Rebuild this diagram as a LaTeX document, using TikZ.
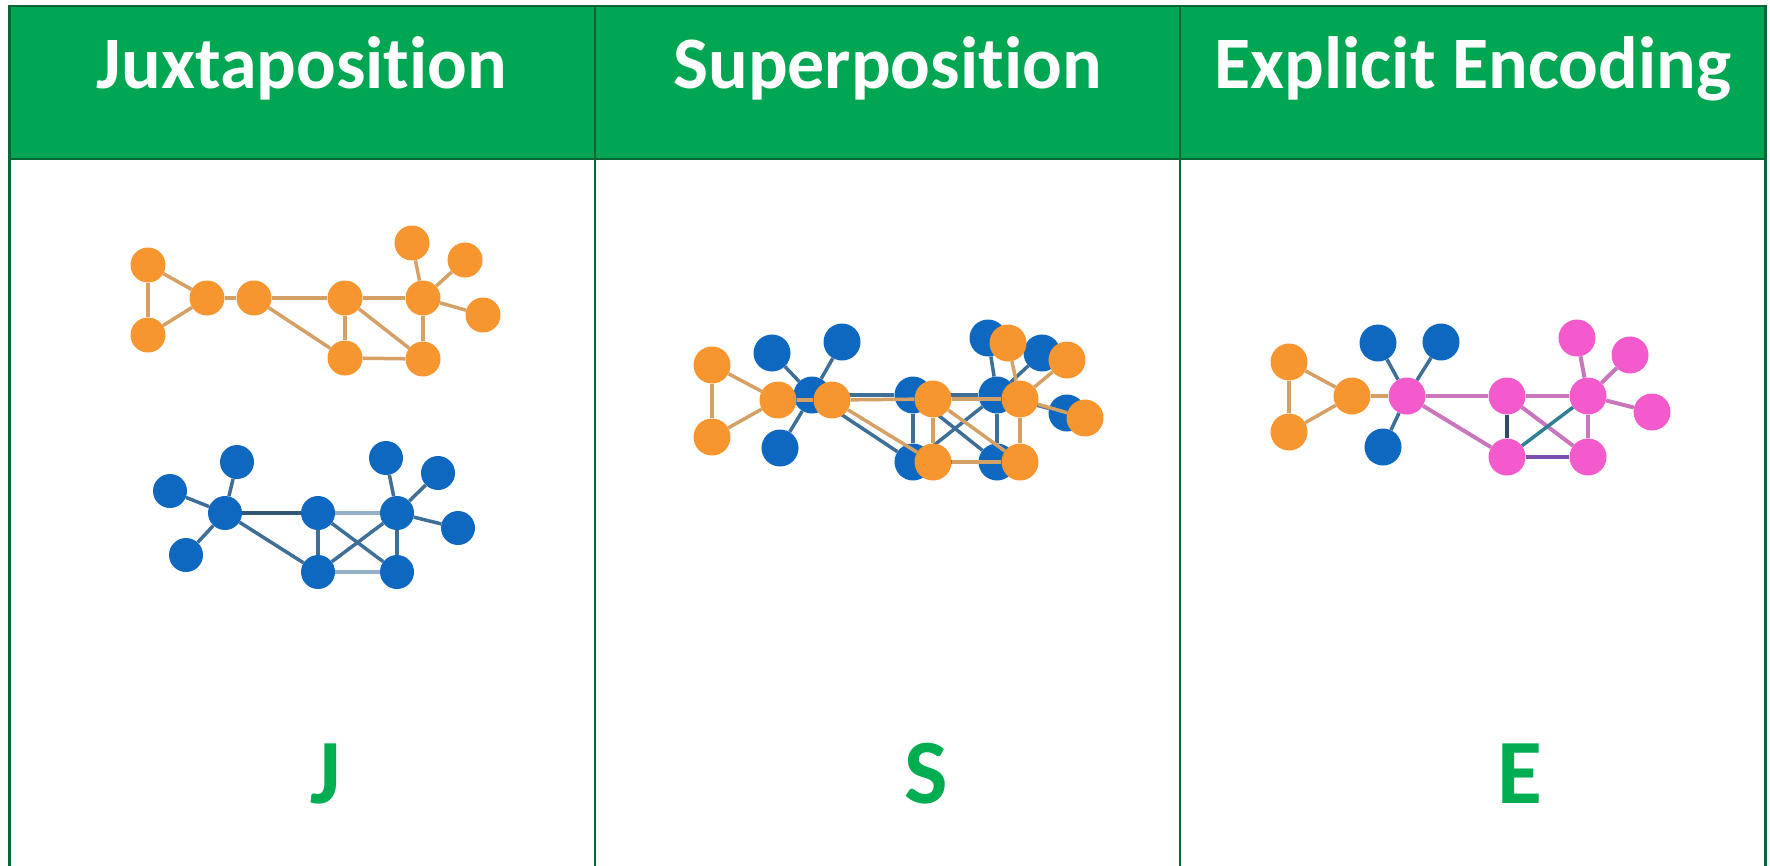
\documentclass[tikz,border=0pt]{standalone}
\usepackage{fontspec}
\setmainfont{Carlito}[Ligatures=NoCommon]
\definecolor{hdr}{HTML}{00A651}
\definecolor{rulec}{HTML}{0A6634}
\definecolor{org}{HTML}{F7952F}
\definecolor{orgE}{HTML}{D4A066}
\definecolor{blu}{HTML}{0E68C0}
\definecolor{bluE}{HTML}{3F6E96}
\definecolor{pnk}{HTML}{F35ACB}
\definecolor{pnkE}{HTML}{C878BA}
\definecolor{purE}{HTML}{7A4FB0}
\definecolor{tealE}{HTML}{2F7F95}
\definecolor{letterc}{HTML}{00AD50}
\begin{document}
\begin{tikzpicture}[x=1pt,y=-1pt,
  vo/.style={circle,fill=org,minimum size=35pt,inner sep=0pt},
  vb/.style={circle,fill=blu,minimum size=34pt,inner sep=0pt},
  vp/.style={circle,fill=pnk,minimum size=37pt,inner sep=0pt},
  vo2/.style={vo,minimum size=37pt},
  vb2/.style={vb,minimum size=37pt},
  eo/.style={draw=orgE,line width=3.5pt},
  eb/.style={draw=bluE,line width=3.5pt},
  ep/.style={draw=pnkE,line width=4pt},
  hdrtext/.style={anchor=base,text=white,font=\fontsize{74}{80}\selectfont\bfseries},
  lettertext/.style={anchor=base,text=letterc,font=\fontsize{92}{96}\selectfont\bfseries},
  gridline/.style={draw=rulec,line width=2.5pt}]
\useasboundingbox (0,0) rectangle (1770,865);
% header
\fill[hdr] (9.5,6) rectangle (1765.5,159);
\draw[gridline] (9.5,870) -- (9.5,6) -- (1765.5,6) -- (1765.5,870);
\draw[gridline] (9.5,159) -- (1765.5,159);
\draw[gridline] (595,6) -- (595,870);
\draw[gridline] (1180,6) -- (1180,870);
\node[hdrtext] (h1) at (302,88) {Juxtaposition};
\node[hdrtext] (h2) at (887.5,88) {Superposition};
\node[hdrtext] (h3) at (1473,88) {Explicit Encoding};
\node[lettertext] (l1) at (326,803) {J};
\node[lettertext] (l2) at (926,803) {S};
\node[lettertext] (l3) at (1520,803) {E};

% ---------- Juxtaposition: orange graph
\foreach \n/\x/\y in {A/148/265,B/148/335,C/207/298,D/254/298,E/345/298,F/423/298,G/345/358,H/423/359,I/412/243,K/465/260,L/483/315}
  \node[vo] (jo\n) at (\x,\y) {};
\foreach \u/\v in {A/B,A/C,B/C,C/D,D/E,E/F,D/G,E/G,E/H,G/H,F/H,F/I,F/K,F/L}
  \draw[eo] (jo\u) -- (jo\v);
% ---------- Juxtaposition: blue graph
\foreach \n/\x/\y in {a/225/513,b/237/462,c/170/491,d/186/555,e/318/513,f/397/513,g/318/572,h/397/572,i/386/458,j/438/473,k/458/528}
  \node[vb] (jb\n) at (\x,\y) {};
\draw[eb,line width=4.5pt,draw=bluE!80!black] (jba) -- (jbe);
\foreach \u/\v in {a/b,a/c,a/d,a/g,e/g,e/h,f/g,f/h,f/i,f/j,f/k}
  \draw[eb] (jb\u) -- (jb\v);
\foreach \u/\v in {e/f,g/h}
  \draw[eb,draw=bluE!55] (jb\u) -- (jb\v);

% ---------- Superposition: blue graph (below)
\foreach \n/\x/\y in {a/812/395,b/772/353,c/842/342,d/780/448,e/913/395,f/997/395,g/913/462,h/997/462,i/988/338,j/1042/353,k/1067/413}
  \node[vb2] (sb\n) at (\x,\y) {};
\foreach \u/\v in {a/b,a/c,a/d,a/e,a/g,e/f,e/g,e/h,f/g,f/h,g/h,f/i,f/j,f/k}
  \draw[eb] (sb\u) -- (sb\v);
% ---------- Superposition: orange graph (above)
\foreach \n/\x/\y in {A/712/365,B/712/437,C/778/400,D/832/400,E/933/399,F/1020/399,G/933/462,H/1020/462,I/1008/343,K/1067/360,L/1085/418}
  \node[vo2] (so\n) at (\x,\y) {};
\foreach \u/\v in {A/B,A/C,B/C,C/D,D/E,E/F,D/G,E/G,E/H,G/H,F/H,F/I,F/K,F/L}
  \draw[eo] (so\u) -- (so\v);

% ---------- Explicit encoding
\foreach \n/\x/\y in {A/1289/362,B/1289/432,C/1352/396}
  \node[vo2] (eo\n) at (\x,\y) {};
\foreach \n/\x/\y in {b/1378/343,c/1441/342,d/1383/447}
  \node[vb2] (eb\n) at (\x,\y) {};
\foreach \n/\x/\y in {a/1407/396,e/1507/396,f/1588/396,g/1507/457,h/1588/457,i/1577/338,j/1630/355,k/1652/412}
  \node[vp] (ep\n) at (\x,\y) {};
\foreach \u/\v in {A/B,A/C,B/C}
  \draw[eo] (eo\u) -- (eo\v);
\draw[eo] (eoC) -- (epa);
\foreach \v in {b,c,d}
  \draw[eb] (epa) -- (eb\v);
\foreach \u/\v in {a/e,a/g,e/f,e/h,f/h,f/i,f/j,f/k}
  \draw[ep] (ep\u) -- (ep\v);
\draw[eb,draw=tealE] (epf) -- (epg);
\draw[eb,draw=bluE!70!black] (epe) -- (epg);
\draw[ep,draw=purE,line width=4.5pt] (epg) -- (eph);
\end{tikzpicture}
\end{document}
